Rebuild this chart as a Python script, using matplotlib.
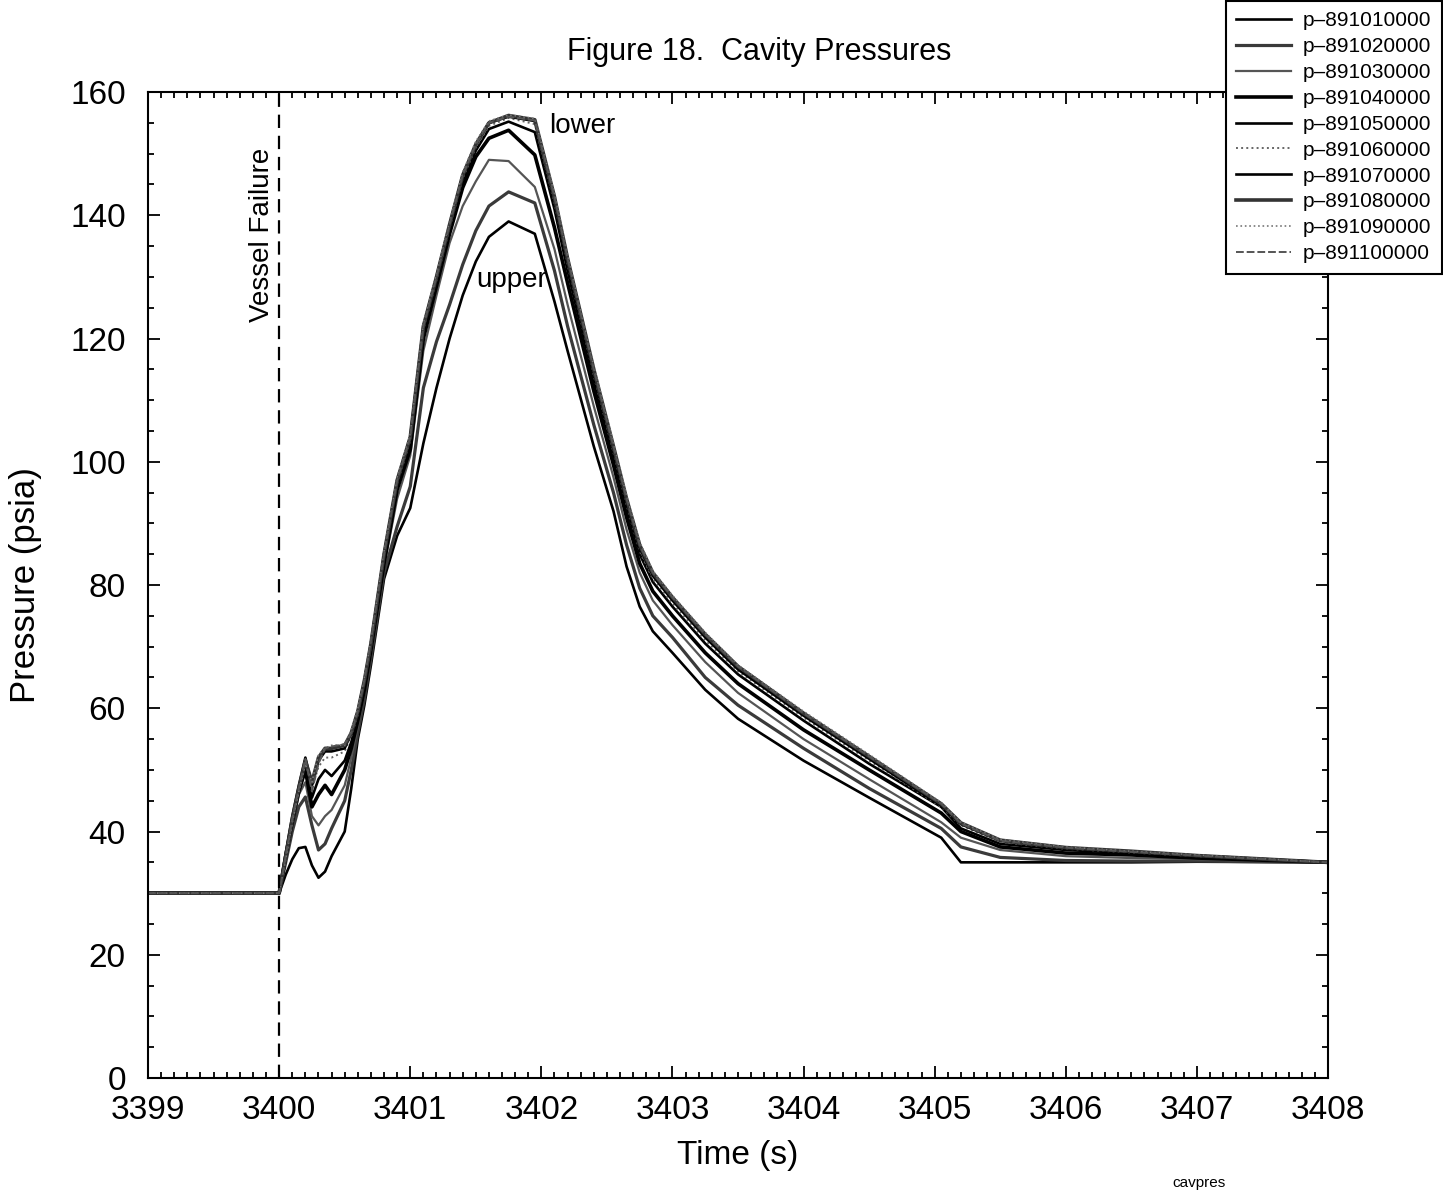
import matplotlib
matplotlib.use("Agg")
import matplotlib.pyplot as plt
from matplotlib.ticker import MultipleLocator

plt.rcParams['font.family'] = ['Liberation Sans', 'DejaVu Sans']

# time points (s)
t = [3399.0, 3400.0, 3400.05, 3400.1, 3400.15, 3400.2, 3400.25, 3400.3, 3400.35, 3400.4,
     3400.5, 3400.55, 3400.6, 3400.65, 3400.7, 3400.8, 3400.9, 3401.0, 3401.1, 3401.2,
     3401.3, 3401.4, 3401.5, 3401.6, 3401.75, 3401.95, 3402.1, 3402.2, 3402.4, 3402.55,
     3402.65, 3402.75, 3402.85, 3403.0, 3403.25, 3403.5, 3404.0, 3404.5, 3405.05, 3405.2,
     3405.5, 3406.0, 3406.5, 3407.0, 3408.0]

# pressures (psia)
p01 = [30, 30, 33, 35.5, 37.3, 37.5, 34.5, 32.5, 33.5, 36,
       40, 47, 55, 60.5, 67, 81, 88, 92.5, 103, 112,
       120, 127, 132.5, 136.5, 139, 137, 126, 118, 102.5, 92,
       83, 76.5, 72.5, 69, 63, 58.3, 51.5, 45.5, 39, 35,
       35, 35, 35, 35.1, 35]
p02 = [30, 30, 35, 40, 44, 45.6, 41, 37, 38, 40.5,
       45, 50, 56, 61.5, 68, 82, 89.5, 96, 112, 119.5,
       125.5, 132, 137.5, 141.5, 143.8, 142, 131, 122, 106, 95,
       86.5, 79.5, 75, 71.5, 65, 60.5, 53.5, 47, 40.5, 37.5,
       35.8, 35.3, 35.2, 35.2, 35]
p03 = [30, 30, 35.5, 41, 46, 48, 42.5, 41, 42.5, 43.5,
       47.5, 52, 57, 62.5, 69, 83, 94, 101, 118, 127,
       135.5, 141.5, 145.5, 149, 148.8, 144.6, 134.5, 125.5, 109, 97.5,
       89, 82, 77.5, 73.5, 67.5, 62.5, 55, 48.5, 41.5, 39,
       37, 36, 35.7, 35.5, 35]
p04 = [30, 30, 36, 41.5, 46.5, 50, 44, 46, 47.5, 46,
       50, 53.5, 58, 63, 69.5, 83.5, 95.5, 102, 120, 128.5,
       137, 144.5, 149.5, 152.5, 153.8, 149.8, 138, 129, 111.5, 99.5,
       91, 83.5, 79, 75, 69, 64, 56.5, 50, 43, 40,
       37.5, 36.5, 36.2, 35.7, 35]
p05 = [30, 30, 36, 42, 47, 51, 45.5, 48.5, 50, 49,
       51.5, 54.5, 58.5, 63.5, 70, 84, 96, 103, 121, 129,
       137.5, 145.5, 150.5, 154, 155.2, 153.5, 141, 131, 113, 100.5,
       92.5, 85, 80.5, 76.5, 70.5, 65.5, 58, 51, 44, 40.5,
       38, 37, 36.5, 36, 35]
p06 = [30, 30, 36, 42, 47, 51.5, 47, 50.5, 52, 52,
       53, 55.5, 59, 64, 70, 84.5, 96.5, 103.5, 121.5, 129.5,
       138, 146, 151, 154.5, 155.8, 154.8, 142, 132, 114, 101.5,
       93, 85.5, 81, 77, 71, 66, 58.5, 51.5, 44, 41,
       38.3, 37.2, 36.6, 36, 35]
p07 = [30, 30, 36.5, 42.5, 47.5, 52, 47.5, 51.5, 53, 53,
       53.5, 56, 59.5, 64.5, 70.5, 85, 97, 104, 122, 130,
       138.5, 146.5, 151.5, 155, 156, 155.3, 142.5, 132.5, 114.5, 102,
       93.5, 86, 81.5, 77.5, 71.5, 66.3, 58.8, 51.8, 44.2, 41.2,
       38.5, 37.3, 36.7, 36.1, 35]
p08 = [30, 30, 36, 42, 47, 51.5, 48, 52, 53.5, 53.5,
       54, 56, 59.5, 64.5, 70.5, 85, 97, 104, 122, 130,
       138.5, 146.5, 151.5, 155, 156.2, 155.5, 143, 133, 115, 102.5,
       94, 86.5, 82, 78, 72, 66.8, 59.2, 52.2, 44.5, 41.4,
       38.6, 37.4, 36.8, 36.1, 35]
p09 = [30, 30, 35.5, 41.5, 46.5, 51, 48, 52.5, 53.5, 54,
       54, 56.5, 60, 65, 71, 85.5, 97.5, 104.5, 122.5, 130.5,
       139, 147, 152, 155.3, 156.3, 155.7, 143.5, 133.5, 115.5, 103,
       94.5, 87, 82.3, 78.3, 72.3, 67, 59.5, 52.5, 44.7, 41.5,
       38.7, 37.5, 36.8, 36.2, 35]
p10 = [30, 30, 36, 42, 47, 51.8, 46.5, 51, 53.5, 53.8,
       54.2, 56, 59.5, 64.5, 71, 85, 97, 104, 122, 130,
       138.5, 146.5, 151.5, 155, 156, 155.4, 143, 133, 115, 102.5,
       94, 86.5, 82, 78, 72, 66.8, 59.2, 52.2, 44.5, 41.3,
       38.5, 37.4, 36.7, 36.1, 35]

series = [p01, p02, p03, p04, p05, p06, p07, p08, p09, p10]
names = ['p\u2013891010000', 'p\u2013891020000', 'p\u2013891030000', 'p\u2013891040000',
         'p\u2013891050000', 'p\u2013891060000', 'p\u2013891070000', 'p\u2013891080000',
         'p\u2013891090000', 'p\u2013891100000']
styles = [('black', '-', 1.9), ('#3a3a3a', '-', 2.3), ('#555555', '-', 1.6),
          ('black', '-', 2.6), ('black', '-', 1.9), ('#666666', ':', 1.4),
          ('black', '-', 1.9), ('#333333', '-', 2.6), ('#777777', ':', 1.2),
          ('#555555', (0, (4, 1.5)), 1.4)]

fig = plt.figure(figsize=(14.43, 11.97), dpi=100)
ax = fig.add_axes([0.1026, 0.0994, 0.8177, 0.8237])

for y, name, (c, ls, lw) in zip(series, names, styles):
    ax.plot(t, y, color=c, linestyle=ls, linewidth=lw, label=name)

ax.axvline(3400, color='black', linestyle=(0, (6, 3.5)), linewidth=1.6)
ax.text(3399.87, 136.8, 'Vessel Failure', rotation=90, ha='center', va='center', fontsize=20)
ax.text(3402.31, 154.5, 'lower', ha='center', va='center', fontsize=20)
ax.text(3401.77, 129.5, 'upper', ha='center', va='center', fontsize=20)

ax.set_xlim(3399, 3408)
ax.set_ylim(0, 160)
ax.xaxis.set_major_locator(MultipleLocator(1))
ax.xaxis.set_minor_locator(MultipleLocator(0.1))
ax.yaxis.set_major_locator(MultipleLocator(20))
ax.yaxis.set_minor_locator(MultipleLocator(5))
ax.tick_params(which='both', direction='in', top=True, right=True, width=1.3)
ax.tick_params(which='major', length=8.5)
ax.tick_params(which='minor', length=4.3)
ax.tick_params(axis='x', which='major', labelsize=24, pad=12)
ax.tick_params(axis='y', which='major', labelsize=24, pad=16)
for s in ax.spines.values():
    s.set_linewidth(1.5)

ax.set_xlabel('Time (s)', fontsize=24)
ax.set_ylabel('Pressure (psia)', fontsize=25)
ax.xaxis.set_label_coords(0.5, -0.063)
ax.yaxis.set_label_coords(-0.09, 0.5)

fig.text(759.5 / 1443, 1 - 52 / 1197, 'Figure 18.  Cavity Pressures', ha='center', va='center', fontsize=22)
fig.text(1199 / 1443, 1 - 1183 / 1197, 'cavpres', ha='center', va='center', fontsize=11)

leg = fig.legend(loc='upper right', bbox_to_anchor=(0.9993, 0.9992), fontsize=15,
                 frameon=True, fancybox=False, edgecolor='black', framealpha=1,
                 borderaxespad=0, handlelength=2.6, handletextpad=0.6,
                 labelspacing=0.33, borderpad=0.5)
leg.get_frame().set_linewidth(1.5)

fig.savefig('out.png', dpi=100)
